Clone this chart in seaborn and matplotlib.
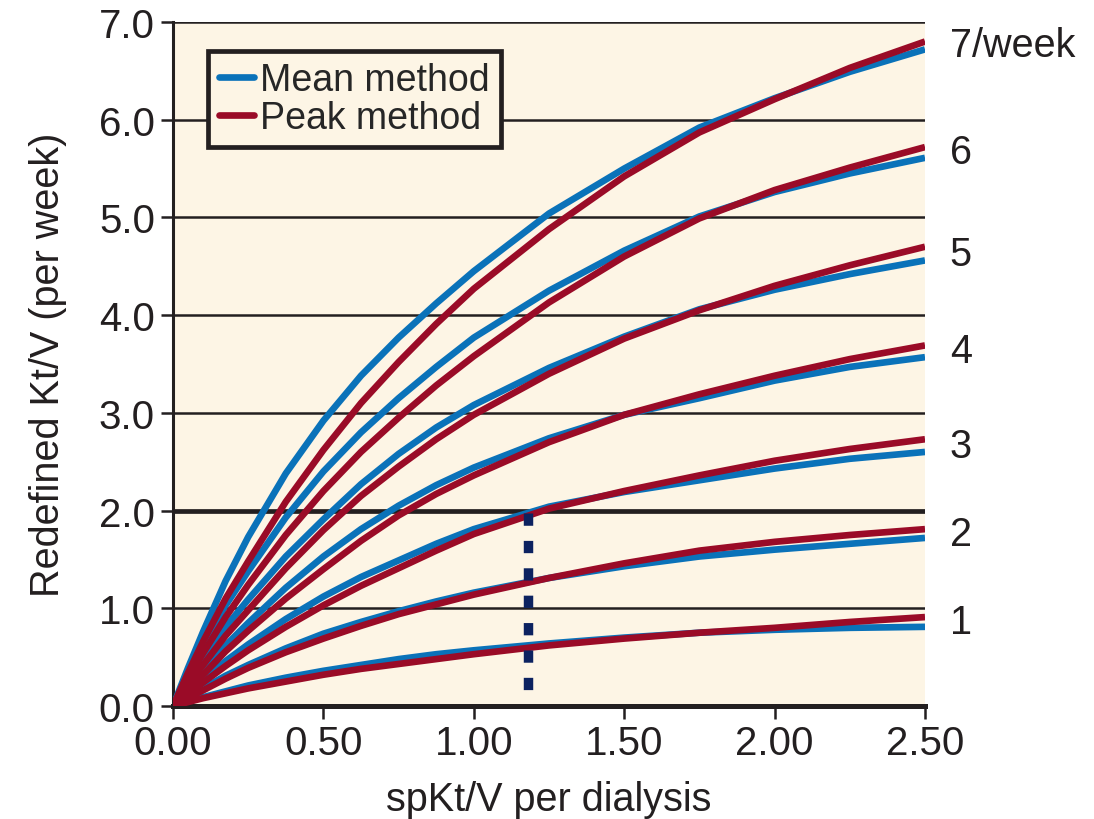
import numpy as np
import pandas as pd
import matplotlib
matplotlib.use("Agg")
import matplotlib.pyplot as plt
import seaborn as sns
from matplotlib.lines import Line2D

# ---------------- data ----------------
sp_ktv = [0.0, 0.05, 0.1, 0.175, 0.25, 0.375, 0.5, 0.625, 0.75, 0.875, 1.0,
          1.25, 1.5, 1.75, 2.0, 2.25, 2.5]
frequencies = [1, 2, 3, 4, 5, 6, 7]
freq_labels = ["1", "2", "3", "4", "5", "6", "7/week"]

mean_1 = [0.0, 0.05, 0.09, 0.15, 0.21, 0.29, 0.36, 0.42, 0.48, 0.53, 0.57,
          0.64, 0.70, 0.75, 0.78, 0.80, 0.81]
mean_2 = [0.0, 0.09, 0.18, 0.31, 0.42, 0.59, 0.74, 0.86, 0.97, 1.07, 1.16,
          1.31, 1.43, 1.53, 1.60, 1.66, 1.72]
mean_3 = [0.0, 0.14, 0.27, 0.46, 0.63, 0.89, 1.12, 1.32, 1.49, 1.66, 1.81,
          2.04, 2.19, 2.31, 2.43, 2.53, 2.60]
mean_4 = [0.0, 0.19, 0.36, 0.62, 0.85, 1.21, 1.53, 1.81, 2.05, 2.26, 2.44,
          2.74, 2.98, 3.15, 3.33, 3.47, 3.57]
mean_5 = [0.0, 0.25, 0.48, 0.81, 1.09, 1.53, 1.91, 2.27, 2.58, 2.85, 3.08,
          3.46, 3.78, 4.06, 4.26, 4.42, 4.56]
mean_6 = [0.0, 0.32, 0.62, 1.03, 1.38, 1.93, 2.40, 2.80, 3.15, 3.47, 3.77,
          4.25, 4.66, 5.01, 5.26, 5.45, 5.61]
mean_7 = [0.0, 0.39, 0.76, 1.28, 1.73, 2.38, 2.92, 3.38, 3.77, 4.12, 4.45,
          5.04, 5.50, 5.92, 6.22, 6.49, 6.72]

peak_1 = [0.0, 0.04, 0.08, 0.13, 0.18, 0.25, 0.32, 0.38, 0.43, 0.48, 0.53,
          0.62, 0.69, 0.75, 0.80, 0.86, 0.91]
peak_2 = [0.0, 0.08, 0.16, 0.28, 0.39, 0.55, 0.69, 0.82, 0.94, 1.04, 1.14,
          1.31, 1.46, 1.59, 1.68, 1.75, 1.81]
peak_3 = [0.0, 0.12, 0.24, 0.41, 0.57, 0.81, 1.03, 1.23, 1.41, 1.59, 1.76,
          2.02, 2.20, 2.36, 2.51, 2.63, 2.73]
peak_4 = [0.0, 0.17, 0.32, 0.56, 0.77, 1.10, 1.40, 1.69, 1.95, 2.17, 2.36,
          2.70, 2.98, 3.19, 3.38, 3.55, 3.69]
peak_5 = [0.0, 0.22, 0.42, 0.72, 0.98, 1.41, 1.80, 2.15, 2.45, 2.73, 2.98,
          3.40, 3.76, 4.05, 4.30, 4.51, 4.70]
peak_6 = [0.0, 0.28, 0.54, 0.91, 1.24, 1.75, 2.20, 2.60, 2.95, 3.28, 3.58,
          4.13, 4.60, 4.99, 5.28, 5.51, 5.72]
peak_7 = [0.0, 0.34, 0.66, 1.10, 1.48, 2.09, 2.62, 3.10, 3.52, 3.91, 4.27,
          4.88, 5.42, 5.87, 6.21, 6.53, 6.80]

methods = ["Mean method", "Peak method"]
x_ticks = [0.0, 0.5, 1.0, 1.5, 2.0, 2.5]
x_tick_labels = ["0.00", "0.50", "1.00", "1.50", "2.00", "2.50"]
y_ticks = [0, 1, 2, 3, 4, 5, 6, 7]
y_tick_labels = ["0.0", "1.0", "2.0", "3.0", "4.0", "5.0", "6.0", "7.0"]
grid_y = [1, 3, 4, 5, 6, 7]
bold_grid_y = 2.0
marker_x = 1.18
marker_y = [1.98, 0.12]

# ---------------- build long table ----------------
mean_series = [mean_1, mean_2, mean_3, mean_4, mean_5, mean_6, mean_7]
peak_series = [peak_1, peak_2, peak_3, peak_4, peak_5, peak_6, peak_7]
rows = []
for method, series in zip(methods, [mean_series, peak_series]):
    for f, vals in zip(frequencies, series):
        for xv, yv in zip(sp_ktv, vals):
            rows.append({"sp": xv, "std": yv, "method": method, "freq": f})
df = pd.DataFrame(rows)

# ---------------- style ----------------
sns.set_style("ticks")
plt.rcParams["font.family"] = ["Liberation Sans", "DejaVu Sans"]

BLUE = "#0a72b9"
RED = "#9a0b27"
NAVY = "#0c2260"
BG = "#fdf5e5"
INK = "#231f20"

fig = plt.figure(figsize=(10.94, 8.20), dpi=100)
ax = fig.add_axes([173 / 1094, 1 - 707 / 820, 752 / 1094, 684 / 820])
ax.set_facecolor(BG)

for gy in grid_y:
    ax.axhline(gy, color=INK, lw=1.8, zorder=1)
ax.axhline(bold_grid_y, color=INK, lw=3.4, zorder=1)

sns.lineplot(data=df, x="sp", y="std", hue="method", units="freq",
             estimator=None, palette={methods[0]: BLUE, methods[1]: RED},
             lw=4.8, legend=False, ax=ax, zorder=3, sort=True)
for ln in ax.lines:
    ln.set_solid_capstyle("butt")
    ln.set_solid_joinstyle("round")

ax.plot([marker_x, marker_x], marker_y, color=NAVY, lw=6.8,
        linestyle=(0, (1.3, 1.6)), dash_capstyle="butt", zorder=4)

ax.set_xlim(0, 2.5)
ax.set_ylim(0, 7)
ax.set_xticks(x_ticks)
ax.set_xticklabels(x_tick_labels)
ax.set_yticks(y_ticks)
ax.set_yticklabels(y_tick_labels)
ax.tick_params(axis="both", direction="out", length=9, width=1.8,
               color=INK, labelsize=29, labelcolor=INK, pad=4)

for s in ["top", "right"]:
    ax.spines[s].set_visible(False)
ax.spines["left"].set_linewidth(2.2)
ax.spines["left"].set_color(INK)
ax.spines["bottom"].set_linewidth(3.6)
ax.spines["bottom"].set_color(INK)

ax.set_xlabel("spKt/V per dialysis", fontsize=28.5, color=INK, labelpad=13)
ax.set_ylabel("Redefined Kt/V (per week)", fontsize=28.5, color=INK, labelpad=23)

# right-side frequency labels
for lab, m, p in zip(freq_labels, mean_series, peak_series):
    ax.text(1.033, (m[-1] + p[-1]) / 2, lab, transform=ax.get_yaxis_transform(),
            fontsize=28.5, color=INK, va="center", ha="left")

handles = [Line2D([0], [0], color=BLUE, lw=4.8),
           Line2D([0], [0], color=RED, lw=4.8)]
leg = ax.legend(handles, methods, loc="upper left", bbox_to_anchor=(0.046, 0.958),
                fontsize=27, frameon=True, fancybox=False, framealpha=1,
                facecolor=BG, edgecolor=INK, handlelength=0.95, handletextpad=0.15,
                borderpad=0.3, labelspacing=0.05, borderaxespad=0)
leg.get_frame().set_linewidth(3.4)
leg.set_zorder(5)

fig.savefig("out.png", dpi=100, facecolor="white")
